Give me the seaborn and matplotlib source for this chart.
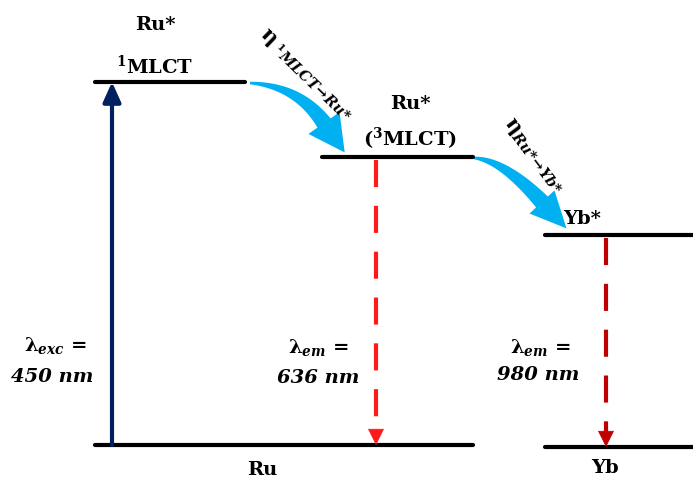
import numpy as np
import pandas as pd
import seaborn as sns
import matplotlib.pyplot as plt
from matplotlib.patches import Polygon

# energy levels (diagram units, y grows downward)
level_names = ['1MLCT', '3MLCT', 'Yb*', 'Ru', 'Yb']
level_x0 = [95, 322, 545, 95, 545]
level_x1 = [245, 473, 693, 473, 693]
level_y = [82, 157, 235, 445, 447]

# transitions: x, start level, end level
exc_x, exc_from, exc_to = 112, 445, 82
em_x = [376, 606]
em_from = [157, 235]
em_to = [445, 447]
em_colors = ['#FF1A1A', '#C00000']

# energy transfer arrows: start, bend point, head base, head length/width
et_start = [(250, 83), (474, 158)]
et_ctrl = [(298, 86), (503, 160)]
et_base = [(324, 123), (542, 202)]
et_head = [(36, 38), (36, 34)]

sns.set_theme(style='white')
plt.rcParams['font.family'] = ['DejaVu Serif']
plt.rcParams['font.weight'] = 'bold'
plt.rcParams['text.color'] = 'black'
plt.rcParams['mathtext.fontset'] = 'custom'
plt.rcParams['mathtext.it'] = 'DejaVu Serif:italic:bold'
plt.rcParams['mathtext.rm'] = 'DejaVu Serif:bold'
plt.rcParams['mathtext.bf'] = 'DejaVu Serif:bold'


def taper_arrow(ax, p0, pc, p1, head, w0=2.5, w1=16, color='#00B0F0'):
    p0, pc, p1 = np.array(p0, float), np.array(pc, float), np.array(p1, float)
    t = np.linspace(0, 1, 40)[:, None]
    pts = (1 - t) ** 2 * p0 + 2 * (1 - t) * t * pc + t ** 2 * p1
    tan = 2 * (1 - t) * (pc - p0) + 2 * t * (p1 - pc)
    tan /= np.linalg.norm(tan, axis=1)[:, None]
    nrm = np.column_stack([-tan[:, 1], tan[:, 0]])
    w = (w0 + (w1 - w0) * t) / 2
    left = pts + nrm * w
    right = pts - nrm * w
    d, n = tan[-1], nrm[-1]
    hl, hw = head
    tip = p1 + d * hl
    poly = np.vstack([left, [p1 + n * hw / 2, tip, p1 - n * hw / 2], right[::-1]])
    ax.add_patch(Polygon(poly, closed=True, color=color, lw=0))


fig = plt.figure(figsize=(6.93, 4.8), dpi=100)
ax = fig.add_axes([0, 0, 1, 1])

rows = []
for n, a, b, y in zip(level_names, level_x0, level_x1, level_y):
    rows.append({'level': n, 'x': a, 'y': y})
    rows.append({'level': n, 'x': b, 'y': y})
df = pd.DataFrame(rows)
sns.lineplot(data=df, x='x', y='y', units='level', estimator=None,
             color='black', lw=3, ax=ax, legend=False)

# excitation arrow
ax.annotate('', xy=(exc_x, exc_to), xytext=(exc_x, exc_from),
            arrowprops=dict(arrowstyle='-|>,head_length=1.0,head_width=0.45',
                            color='#002060', lw=3, shrinkA=0, shrinkB=0))

# emission arrows (dashed)
for x, y0, y1, c in zip(em_x, em_from, em_to, em_colors):
    ax.plot([x, x], [y0 + 3, y1 - 14], color=c, lw=3, ls=(0, (6.5, 4.5)))
    ax.annotate('', xy=(x, y1), xytext=(x, y1 - 16),
                arrowprops=dict(arrowstyle='-|>,head_length=0.9,head_width=0.45',
                                color=c, lw=0.5, shrinkA=0, shrinkB=0))

for a, c, b, h in zip(et_start, et_ctrl, et_base, et_head):
    taper_arrow(ax, a, c, b, h)

fs = 14
ax.text(155, 25, 'Ru*', ha='center', va='center', fontsize=fs)
ax.text(155, 66, r'$^{1}$MLCT', ha='center', va='center', fontsize=fs)
ax.text(410, 104, 'Ru*', ha='center', va='center', fontsize=fs)
ax.text(410, 139, r'($^{3}$MLCT)', ha='center', va='center', fontsize=fs)
ax.text(582, 219, 'Yb*', ha='center', va='center', fontsize=fs)
ax.text(262, 470, 'Ru', ha='center', va='center', fontsize=fs)
ax.text(605, 468, 'Yb', ha='center', va='center', fontsize=fs)

ax.text(55, 345, r'λ$_{exc}$ =', ha='center', va='center', fontsize=fs)
ax.text(52, 377, '450 nm', ha='center', va='center', fontsize=fs, style='italic')
ax.text(318, 348, r'λ$_{em}$ =', ha='center', va='center', fontsize=fs)
ax.text(318, 378, '636 nm', ha='center', va='center', fontsize=fs, style='italic')
ax.text(540, 348, r'λ$_{em}$ =', ha='center', va='center', fontsize=fs)
ax.text(538, 375, '980 nm', ha='center', va='center', fontsize=fs, style='italic')

ax.text(306, 74, r'η$_{\ ^{1}MLCT\!\rightarrow\! Ru{*}}$', ha='center', va='center',
        fontsize=15, rotation=-44, rotation_mode='anchor')
ax.text(534, 156, r'η$_{Ru{*}\!\rightarrow\! Yb{*}}$', ha='center', va='center',
        fontsize=15, rotation=-53, rotation_mode='anchor')

ax.set_xlim(0, 693)
ax.set_ylim(480, 0)
ax.axis('off')
fig.savefig('out.png', dpi=100)
